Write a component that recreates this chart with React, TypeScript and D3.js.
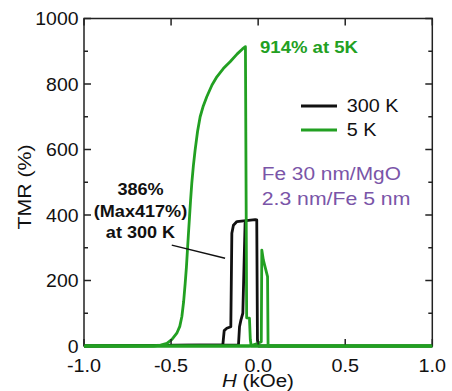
import React from "react";
import * as d3 from "d3";

// ---- data ----
const xTicks = [-1.0, -0.5, 0.0, 0.5, 1.0];
const xTickLabels = ["-1.0", "-0.5", "0.0", "0.5", "1.0"];
const yMajor = [0, 200, 400, 600, 800, 1000];
const yMinor = [100, 300, 500, 700, 900];

// 5 K, field sweep from + to -
const g5DownH = [1.0, -0.04, -0.045, -0.05, -0.066, -0.073, -0.09, -0.12, -0.161, -0.2, -0.237, -0.265, -0.295, -0.315, -0.333, -0.348, -0.362, -0.372, -0.381, -0.388, -0.394, -0.4, -0.406, -0.412, -0.419, -0.428, -0.438, -0.45, -0.467, -0.495, -0.524, -0.56, -0.6, -1.0];
const g5DownV = [0, 0, 20, 85, 86, 914, 907, 892, 868, 847, 822, 797, 761, 733, 700, 655, 598, 550, 497, 445, 395, 345, 293, 240, 191, 135, 90, 60, 39, 20, 8, 3, 0, 0];
// 5 K, field sweep from - to +
const g5UpH = [-1.0, -0.05, 0.0, 0.018, 0.021, 0.03, 0.05, 0.054, 0.057, 1.0];
const g5UpV = [0, 0, 8, 13, 293, 262, 220, 212, 0, 0];
// 300 K, branch 1
const b300aH = [-1.0, -0.203, -0.195, -0.18, -0.157, -0.151, -0.142, -0.122, -0.017, -0.008, -0.004, 0.002, 1.0];
const b300aV = [0, 3, 47, 54, 59, 344, 369, 380, 386, 385, 18, 0, 0];
// 300 K, branch 2
const b300bH = [-1.0, -0.113, -0.107, -0.099, -0.088, -0.075, -0.066];
const b300bV = [0, 3, 59, 79, 100, 375, 386];
// pointer line of annotation
const pointerH = [-0.496, -0.19];
const pointerV = [308, 268];

const GREEN = "#22a022";
const BLACK = "#111111";
const PURPLE = "#7a55a8";
const FONT = "'Liberation Sans', Arial, Helvetica, sans-serif";

type TP = {
  x: number; y: number; size: number; sx?: number; anchor?: string;
  weight?: string; fill?: string; rot?: number; children: React.ReactNode;
};
function T({ x, y, size, sx = 1.12, anchor = "start", weight = "normal", fill = "#111", rot = 0, children }: TP) {
  return (
    <text
      transform={`translate(${x},${y}) rotate(${rot}) scale(${sx},1)`}
      fontSize={size}
      fontFamily={FONT}
      fontWeight={weight}
      textAnchor={anchor as any}
      fill={fill}
    >
      {children}
    </text>
  );
}

export default function App() {
  const W = 452, H = 391;
  const L = 84, R = 432.3, TOP = 18.5, B = 346;
  const x = d3.scaleLinear().domain([-1, 1]).range([L, R]);
  const y = d3.scaleLinear().domain([0, 1000]).range([B, TOP]);
  const line = d3.line<[number, number]>().x(d => x(d[0])).y(d => y(d[1]));
  const zip = (a: number[], b: number[]) => a.map((v, i) => [v, b[i]] as [number, number]);

  const major = 7, minor = 4;

  return (
    <svg width={W} height={H} style={{ position: "absolute", left: 0, top: 0, background: "#fff" }}>
      <rect x={0} y={0} width={W} height={H} fill="#fff" />
      {/* curves: 300 K under 5 K */}
      <path d={line(zip(b300aH, b300aV)) || ""} fill="none" stroke={BLACK} strokeWidth={2.8} strokeLinejoin="round" />
      <path d={line(zip(b300bH, b300bV)) || ""} fill="none" stroke={BLACK} strokeWidth={2.8} strokeLinejoin="round" />
      <path d={line(zip(g5UpH, g5UpV)) || ""} fill="none" stroke={GREEN} strokeWidth={2.8} strokeLinejoin="round" />
      <path d={line(zip(g5DownH, g5DownV)) || ""} fill="none" stroke={GREEN} strokeWidth={2.8} strokeLinejoin="round" />
      <path d={line(zip(pointerH, pointerV)) || ""} fill="none" stroke={BLACK} strokeWidth={1.5} />

      {/* frame */}
      <rect x={L} y={TOP} width={R - L} height={B - TOP} fill="none" stroke="#222" strokeWidth={1.5} />
      {yMajor.map(v => (
        <g key={"ym" + v}>
          <line x1={L} x2={L + major} y1={y(v)} y2={y(v)} stroke="#222" strokeWidth={1.5} />
          <line x1={R} x2={R - major} y1={y(v)} y2={y(v)} stroke="#222" strokeWidth={1.5} />
        </g>
      ))}
      {yMinor.map(v => (
        <g key={"yn" + v}>
          <line x1={L} x2={L + minor} y1={y(v)} y2={y(v)} stroke="#222" strokeWidth={1.5} />
          <line x1={R} x2={R - minor} y1={y(v)} y2={y(v)} stroke="#222" strokeWidth={1.5} />
        </g>
      ))}
      {xTicks.map(v => (
        <g key={"xt" + v}>
          <line x1={x(v)} x2={x(v)} y1={B} y2={B - major} stroke="#222" strokeWidth={1.5} />
          <line x1={x(v)} x2={x(v)} y1={TOP} y2={TOP + major} stroke="#222" strokeWidth={1.5} />
        </g>
      ))}
      {/* green baseline drawn over frame bottom */}
      <line x1={x(-1)} x2={x(1)} y1={y(0)} y2={y(0)} stroke={GREEN} strokeWidth={2.8} />

      {/* tick labels */}
      {yMajor.map(v => (
        <T key={"yl" + v} x={L - 5.5} y={y(v) + 6.5} size={18} sx={1.08} anchor="end">{String(v)}</T>
      ))}
      {xTicks.map((v, i) => (
        <T key={"xl" + v} x={x(v)} y={371.5} size={18} sx={1.1} anchor="middle">{xTickLabels[i]}</T>
      ))}

      {/* axis titles */}
      <T x={31} y={187} size={19} sx={1.12} rot={-90} anchor="middle">TMR (%)</T>
      <text transform={`translate(258,386.5) scale(1.08,1)`} fontSize={19} fontFamily={FONT} textAnchor="middle" fill="#111">
        <tspan fontStyle="italic">H</tspan> (kOe)
      </text>

      {/* annotations */}
      <T x={260} y={53.3} size={16} sx={1.16} weight="bold" fill={GREEN}>914% at 5K</T>
      <T x={140.5} y={195} size={16} sx={1.13} weight="bold" anchor="middle">386%</T>
      <T x={140.5} y={216.5} size={16} sx={1.13} weight="bold" anchor="middle">(Max417%)</T>
      <T x={140.5} y={237.5} size={16} sx={1.13} weight="bold" anchor="middle">at 300 K</T>

      <T x={261.7} y={180} size={18} sx={1.16} fill={PURPLE}>Fe 30 nm/MgO</T>
      <T x={261.7} y={205} size={18} sx={1.18} fill={PURPLE}>2.3 nm/Fe 5 nm</T>

      {/* legend */}
      <line x1={301} x2={337} y1={106} y2={106} stroke={BLACK} strokeWidth={3} />
      <T x={346.7} y={111.7} size={18} sx={1.1}>300 K</T>
      <line x1={301} x2={337} y1={130} y2={130} stroke={GREEN} strokeWidth={3} />
      <T x={346.7} y={135.5} size={18} sx={1.1}>5 K</T>
    </svg>
  );
}
